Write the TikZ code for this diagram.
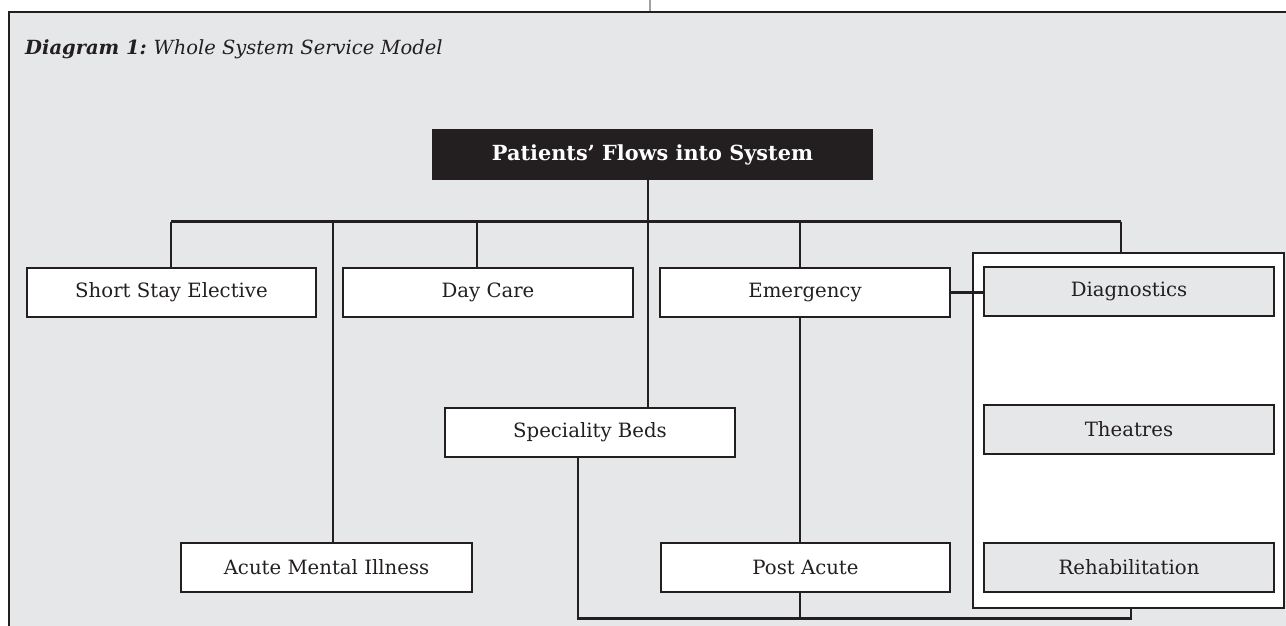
\documentclass[tikz,border=0pt]{standalone}
\usepackage{fontspec}
\setmainfont{DejaVu Serif}
\definecolor{bg}{HTML}{E6E7E8}
\definecolor{ink}{HTML}{231F20}
\definecolor{topline}{HTML}{A0A0A0}
\tikzset{
  box/.style={draw=ink, line width=2.6pt, fill=white, minimum width=#1, minimum height=49pt, inner sep=0pt, text=ink, font=\fontsize{19.7}{22}\selectfont},
  box/.default=290pt,
  graybox/.style={box, fill=bg},
  conn/.style={draw=ink, line width=2.2pt},
  frame/.style={draw=ink, line width=2.4pt}
}
\begin{document}
\begin{tikzpicture}[x=1pt,y=-1pt]
\useasboundingbox (0,0) rectangle (1286,626);
\fill[white] (0,0) rectangle (1286,626);
\fill[bg] (9,12) rectangle (1286,626);
\draw[topline, line width=2pt] (650,0) -- (650,11);
\draw[frame] (9,626) -- (9,12) -- (1286,12);
\node[anchor=base west, inner sep=0pt, text=ink, font=\fontsize{19.5}{22}\selectfont] (title) at (25,55) {\textbf{\textit{Diagram 1:}}\hspace{0.35em}\textit{Whole System Service Model}};

\node[draw=none, fill=ink, minimum width=441pt, minimum height=51pt, inner sep=0pt, text=white, font=\bfseries\fontsize{20.8}{24}\selectfont] (head) at (652.5,154.5) {Patients’ Flows into System};

\node[draw=ink, line width=2.6pt, fill=white, minimum width=311pt, minimum height=355pt, inner sep=0pt] (rb) at (1128.5,430.5) {};

\node[box=289pt] (sse) at (171.5,292.5) {Short Stay Elective};
\node[box] (dc) at (488,292.5) {Day Care};
\node[box] (em) at (805,292.5) {Emergency};
\node[box] (sb) at (590,432.5) {Speciality Beds};
\node[box=291pt] (ami) at (326.5,567.5) {Acute Mental Illness};
\node[box=289pt] (pa) at (805.5,567.5) {Post Acute};
\node[graybox] (diag) at (1129,291.5) {Diagnostics};
\node[graybox] (th) at (1129,429.5) {Theatres};
\node[graybox] (rehab) at (1129,567.5) {Rehabilitation};

\coordinate (b0) at (171,221.5);
\coordinate (b1) at (333,221.5);
\coordinate (b2) at (477,221.5);
\coordinate (b3) at (648,221.5);
\coordinate (b4) at (800,221.5);
\coordinate (b5) at (1121,221.5);
\coordinate (bl) at (578,618.5);
\coordinate (bm) at (800,618.5);
\coordinate (br) at (1131,618.5);

\draw[conn] (b3 |- head.south) -- (b3 |- sb.north);
\draw[conn] (b0) -- (b5);
\draw[conn] (b0) -- (b0 |- sse.north);
\draw[conn] (b1) -- (b1 |- ami.north);
\draw[conn] (b2) -- (b2 |- dc.north);
\draw[conn] (b4) -- (b4 |- em.north);
\draw[conn] (b5) -- (b5 |- rb.north);
\draw[conn] (em.east) -- (diag.west |- em.east);
\draw[conn] (b4 |- em.south) -- (b4 |- pa.north);
\draw[conn] (bl |- sb.south) -- (bl) -- (br) -- (br |- rb.south);
\draw[conn] (bm |- pa.south) -- (bm);
\end{tikzpicture}
\end{document}
